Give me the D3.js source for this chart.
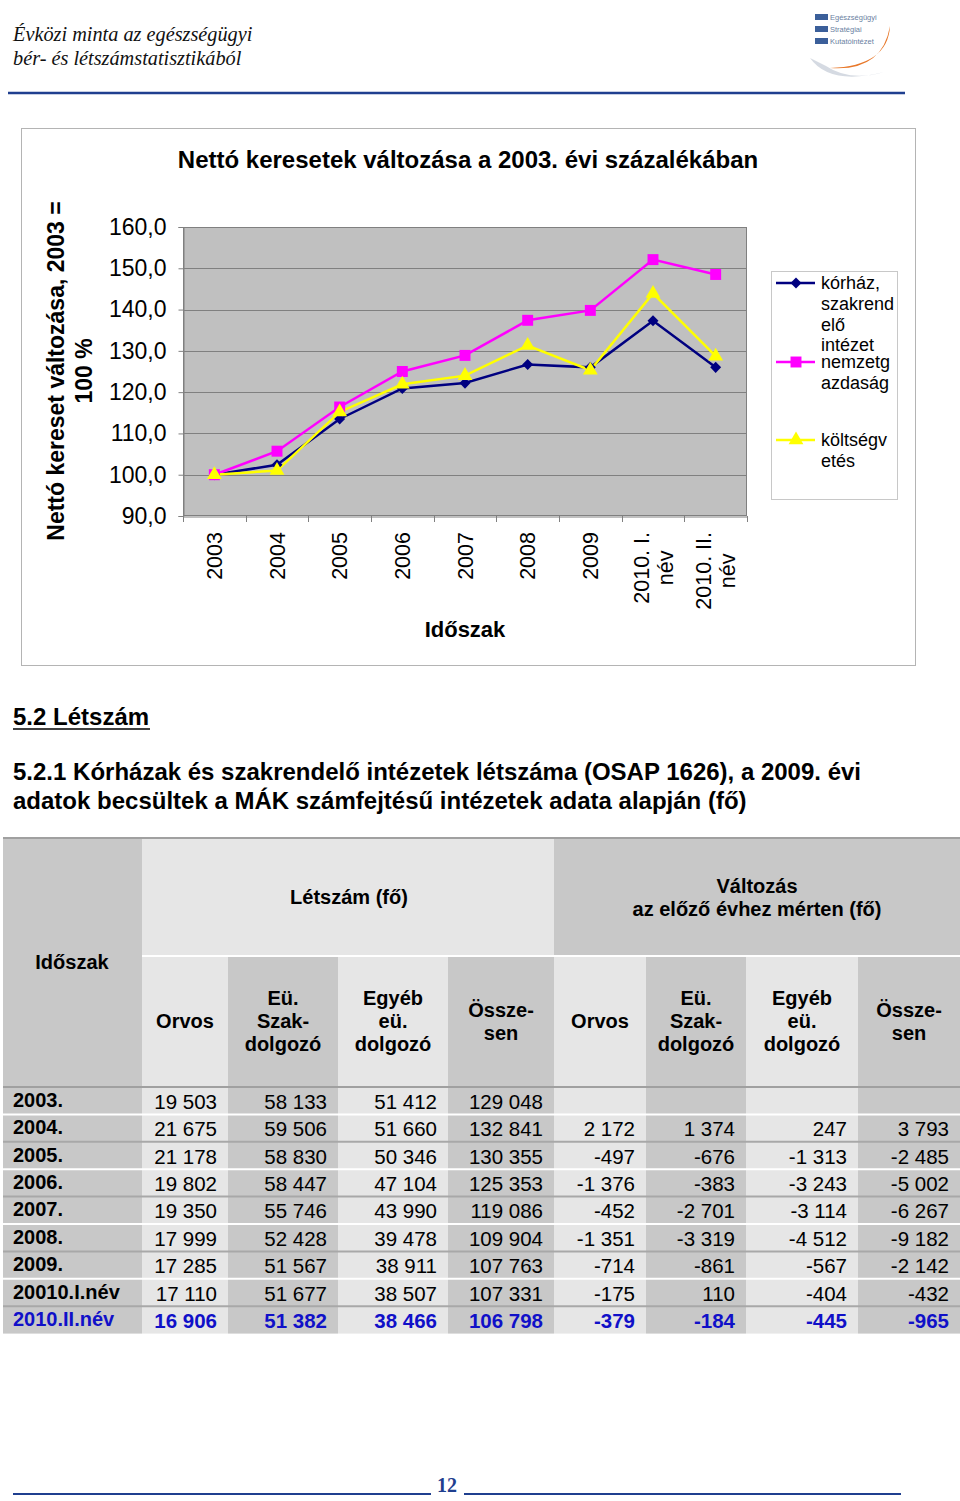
<!DOCTYPE html>
<html>
<head>
<meta charset="utf-8">
<script src="https://cdn.jsdelivr.net/npm/d3@7"></script>
<style>
  body { margin: 0; background: #fff; }
  text { font-family: "Liberation Sans", Arial, sans-serif; }
</style>
</head>
<body>
<svg id="page" width="960" height="1501"></svg>
<script>
// ---- adatok: grafikon
const periods = ["2003", "2004", "2005", "2006", "2007", "2008", "2009", "2010. I. név", "2010. II. név"];
const korhaz = [100.0, 102.4, 113.5, 120.9, 122.2, 126.7, 126.0, 137.3, 126.0];
const nemzetgazdasag = [100.0, 105.7, 116.4, 125.0, 128.9, 137.4, 139.8, 152.1, 148.5];
const koltsegvetes = [100.0, 101.0, 115.2, 121.9, 124.0, 131.3, 125.3, 143.9, 128.7];
const yTicks = [90, 100, 110, 120, 130, 140, 150, 160];
const seriesNames = [["kórház,", "szakrend", "elő", "intézet"], ["nemzetg", "azdaság"], ["költségv", "etés"]];

// ---- adatok: táblázat
const rowLabels = ["2003.", "2004.", "2005.", "2006.", "2007.", "2008.", "2009.", "20010.I.név", "2010.II.név"];
const orvos = [19503, 21675, 21178, 19802, 19350, 17999, 17285, 17110, 16906];
const szakdolgozo = [58133, 59506, 58830, 58447, 55746, 52428, 51567, 51677, 51382];
const egyeb = [51412, 51660, 50346, 47104, 43990, 39478, 38911, 38507, 38466];
const osszesen = [129048, 132841, 130355, 125353, 119086, 109904, 107763, 107331, 106798];
const valtOrvos = [null, 2172, -497, -1376, -452, -1351, -714, -175, -379];
const valtSzak = [null, 1374, -676, -383, -2701, -3319, -861, 110, -184];
const valtEgyeb = [null, 247, -1313, -3243, -3114, -4512, -567, -404, -445];
const valtOssz = [null, 3793, -2485, -5002, -6267, -9182, -2142, -432, -965];
const subHeaders = [["Orvos"], ["Eü.", "Szak-", "dolgozó"], ["Egyéb", "eü.", "dolgozó"], ["Össze-", "sen"]];

const hu = d3.formatLocale({decimal: ",", thousands: " ", grouping: [3], currency: ["", ""], minus: "-"});
const fmtTick = hu.format(".1f");
const fmtNum = hu.format(",d");

const svg = d3.select("#page");
const blue = "#1f3f8f";

// ---- fejléc
const head = svg.append("g");
head.selectAll("text.hd")
  .data(["Évközi minta az egészségügyi", "bér- és létszámstatisztikából"])
  .join("text")
  .attr("x", 13)
  .attr("y", (d, i) => 41 + i * 24)
  .style("font-family", "'Liberation Serif', 'DejaVu Serif', serif")
  .style("font-style", "italic")
  .style("font-size", "20.3px")
  .attr("fill", "#111")
  .text(d => d);
head.append("line")
  .attr("x1", 8).attr("x2", 905).attr("y1", 93).attr("y2", 93)
  .attr("stroke", blue).attr("stroke-width", 2.5);

// logó (egyszerűsítve)
const logo = head.append("g").attr("transform", "translate(800,0)");
logo.append("path")
  .attr("d", "M10,58 Q30,86 84,72 Q50,82 26,66 Z")
  .attr("fill", "#d5dae2");
logo.append("path")
  .attr("d", "M30,68 Q82,72 90,26 Q88,66 30,68 Z")
  .attr("fill", "#e8782a");
["Egészségügyi", "Stratégiai", "Kutatóintézet"].forEach((t, i) => {
  logo.append("rect").attr("x", 15).attr("y", 14 + i * 12).attr("width", 13).attr("height", 6).attr("fill", "#3b5f9a");
  logo.append("text").attr("x", 30).attr("y", 20 + i * 12)
    .style("font-size", "7.5px").attr("fill", "#6a7f9f").text(t);
});

// ---- grafikon
const chart = svg.append("g");
chart.append("rect")
  .attr("x", 21.5).attr("y", 128.5).attr("width", 894).attr("height", 537)
  .attr("fill", "#fff").attr("stroke", "#b4b4b4");

chart.append("text")
  .attr("x", 468).attr("y", 168)
  .attr("text-anchor", "middle")
  .style("font-size", "24px").style("font-weight", "bold")
  .text("Nettó keresetek változása a 2003. évi százalékában");

const x = d3.scaleBand().domain(periods).range([183, 747]);
const y = d3.scaleLinear().domain([90, 160]).range([516, 227]);
const cx = d => x(d) + x.bandwidth() / 2;

chart.append("rect")
  .attr("x", 183).attr("y", 227).attr("width", 564).attr("height", 289)
  .attr("fill", "#c0c0c0");

chart.append("g")
  .selectAll("line")
  .data(yTicks.slice(1))
  .join("line")
  .attr("x1", 183).attr("x2", 747)
  .attr("y1", d => Math.round(y(d)) + 0.5).attr("y2", d => Math.round(y(d)) + 0.5)
  .attr("stroke", "#808080");

chart.append("rect")
  .attr("x", 183.5).attr("y", 227.5).attr("width", 563).attr("height", 288)
  .attr("fill", "none").attr("stroke", "#808080");

// y tengely
const yAxis = chart.append("g").attr("transform", "translate(183.5,0)")
  .call(d3.axisLeft(y).tickValues(yTicks).tickSize(5).tickFormat(fmtTick));
yAxis.select(".domain").attr("stroke", "#808080");
yAxis.selectAll(".tick line").attr("stroke", "#808080");
yAxis.selectAll(".tick text")
  .attr("x", -17)
  .style("font-family", "'Liberation Sans', Arial, sans-serif")
  .style("font-size", "23px").attr("fill", "#000");

// x tengely
const xAxis = chart.append("g").attr("transform", "translate(0,516.5)")
  .call(d3.axisBottom(x).tickSize(0).tickFormat(""));
xAxis.select(".domain").attr("stroke", "#808080");
chart.append("g").selectAll("line")
  .data(periods.concat(["end"]))
  .join("line")
  .attr("x1", (d, i) => Math.round(183 + i * x.bandwidth()) + 0.5)
  .attr("x2", (d, i) => Math.round(183 + i * x.bandwidth()) + 0.5)
  .attr("y1", 516).attr("y2", 522)
  .attr("stroke", "#808080");

const xLab = chart.append("g").selectAll("g")
  .data(periods)
  .join("g")
  .attr("transform", d => `translate(${cx(d)},532) rotate(-90)`);
xLab.each(function (d) {
  const g = d3.select(this);
  const lines = d.endsWith(" név") ? [d.replace(" név", ""), "név"] : [d];
  const texts = lines.map((t, i) => g.append("text")
    .attr("y", lines.length === 1 ? 0 : (i === 0 ? -12 : 12))
    .attr("dy", "0.35em")
    .style("font-size", "21.5px")
    .text(t));
  const w = d3.max(texts, t => t.node().getComputedTextLength());
  texts.forEach(t => t.attr("text-anchor", "middle").attr("x", -w / 2));
});

chart.append("text")
  .attr("x", 465).attr("y", 637)
  .attr("text-anchor", "middle")
  .style("font-size", "22px").style("font-weight", "bold")
  .text("Időszak");

// y tengely címe
const yTitle = chart.append("g").attr("transform", "translate(70,371) rotate(-90)");
["Nettó kereset változása, 2003 =", "100 %"].forEach((t, i) => {
  yTitle.append("text")
    .attr("y", i === 0 ? -14 : 14)
    .attr("dy", "0.35em")
    .attr("text-anchor", "middle")
    .style("font-size", "23px").style("font-weight", "bold")
    .text(t);
});

// vonalak
const series = [
  {values: korhaz, color: "#000080", symbol: d3.symbolDiamond, size: 36, tf: "scale(1.7,1)"},
  {values: nemzetgazdasag, color: "#ff00ff", symbol: d3.symbolSquare, size: 120, tf: ""},
  {values: koltsegvetes, color: "#ffff00", symbol: d3.symbolTriangle, size: 95, tf: ""}
];
const line = d3.line().x((d, i) => cx(periods[i])).y(d => y(d));
const plot = chart.append("g");
series.forEach(s => {
  plot.append("path")
    .attr("d", line(s.values))
    .attr("fill", "none")
    .attr("stroke", s.color)
    .attr("stroke-width", 2.5);
});
series.forEach(s => {
  plot.append("g").selectAll("path")
    .data(s.values)
    .join("path")
    .attr("transform", (d, i) => `translate(${cx(periods[i])},${y(d)}) ${s.tf}`)
    .attr("d", d3.symbol().type(s.symbol).size(s.size))
    .attr("fill", s.color);
});

// jelmagyarázat
const legend = chart.append("g");
legend.append("rect")
  .attr("x", 771.5).attr("y", 271.5).attr("width", 126).attr("height", 228)
  .attr("fill", "#fff").attr("stroke", "#c8c8c8");
const legY = [283, 362, 440];
series.forEach((s, k) => {
  const g = legend.append("g").attr("transform", `translate(0,${legY[k]})`);
  g.append("line").attr("x1", 776).attr("x2", 815).attr("stroke", s.color).attr("stroke-width", 2.5);
  g.append("path")
    .attr("transform", `translate(796,0) ${s.tf}`)
    .attr("d", d3.symbol().type(s.symbol).size(s.size))
    .attr("fill", s.color);
  seriesNames[k].forEach((t, i) => {
    g.append("text")
      .attr("x", 821).attr("y", i * 20.6)
      .attr("dy", "0.35em")
      .style("font-size", "18px")
      .text(t);
  });
});

// ---- alfejezet címek
svg.append("text")
  .attr("x", 13).attr("y", 725)
  .style("font-size", "24px").style("font-weight", "bold")
  .text("5.2 Létszám");
svg.append("line")
  .attr("x1", 13).attr("x2", 150).attr("y1", 729).attr("y2", 729)
  .attr("stroke", "#000").attr("stroke-width", 1.5);
svg.selectAll("text.sub")
  .data(["5.2.1 Kórházak és szakrendelő intézetek létszáma (OSAP 1626), a 2009. évi",
         "adatok becsültek a MÁK számfejtésű intézetek adata alapján (fő)"])
  .join("text")
  .attr("class", "sub")
  .attr("x", 13).attr("y", (d, i) => 780 + i * 29)
  .style("font-size", "24px").style("font-weight", "bold")
  .text(d => d);

// ---- táblázat
const colEdges = [3, 142, 228, 338, 448, 554, 646, 746, 858, 960];
const light = "#e6e6e6", dark = "#c8c8c8";
const colFill = i => (i === 0 ? dark : (i % 2 === 1 ? light : dark));
const tbl = svg.append("g");
const tTop = 838, hSplit = 955, hBot = 1087, rowH = 27.4;

// fejléc háttér
tbl.append("rect").attr("x", 3).attr("y", tTop).attr("width", 139).attr("height", hBot - tTop).attr("fill", dark);
tbl.append("rect").attr("x", 142).attr("y", tTop).attr("width", 412).attr("height", hSplit - tTop).attr("fill", light);
tbl.append("rect").attr("x", 554).attr("y", tTop).attr("width", 406).attr("height", hSplit - tTop).attr("fill", dark);
for (let c = 1; c < 9; c++) {
  tbl.append("rect")
    .attr("x", colEdges[c]).attr("y", hSplit + 2)
    .attr("width", colEdges[c + 1] - colEdges[c]).attr("height", hBot - hSplit - 2)
    .attr("fill", colFill(c));
}
tbl.append("line").attr("x1", 142).attr("x2", 960).attr("y1", hSplit + 1).attr("y2", hSplit + 1)
  .attr("stroke", "#fff").attr("stroke-width", 2);
tbl.append("line").attr("x1", 3).attr("x2", 960).attr("y1", tTop).attr("y2", tTop)
  .attr("stroke", "#a0a0a0").attr("stroke-width", 2);

const hText = (x0, y0, lines, lh) => {
  lines.forEach((t, i) => {
    tbl.append("text")
      .attr("x", x0).attr("y", y0 + (i - (lines.length - 1) / 2) * lh)
      .attr("dy", "0.35em").attr("text-anchor", "middle")
      .style("font-size", "20px").style("font-weight", "bold")
      .text(t);
  });
};
hText(349, 897, ["Létszám (fő)"], 23);
hText(757, 897, ["Változás", "az előző évhez mérten (fő)"], 23);
hText(72, 962, ["Időszak"], 23);
for (let c = 1; c < 9; c++) {
  hText((colEdges[c] + colEdges[c + 1]) / 2, 1021, subHeaders[(c - 1) % 4], 23);
}

// adatsorok
const cols = [orvos, szakdolgozo, egyeb, osszesen, valtOrvos, valtSzak, valtEgyeb, valtOssz];
const rowTop = i => hBot + i * rowH;
for (let c = 0; c < 9; c++) {
  tbl.append("rect")
    .attr("x", colEdges[c]).attr("y", hBot)
    .attr("width", colEdges[c + 1] - colEdges[c]).attr("height", rowH * rowLabels.length)
    .attr("fill", colFill(c));
}
tbl.append("line").attr("x1", 3).attr("x2", 960).attr("y1", hBot).attr("y2", hBot)
  .attr("stroke", "#a0a0a0").attr("stroke-width", 2);
rowLabels.forEach((r, i) => {
  if (i > 0) {
    tbl.append("line")
      .attr("x1", 3).attr("x2", 960)
      .attr("y1", rowTop(i)).attr("y2", rowTop(i))
      .attr("stroke", i % 2 === 0 ? "#a8a8a8" : "#fff").attr("stroke-width", 2);
  }
  const last = i === rowLabels.length - 1;
  const fill = last ? "#1010c8" : "#000";
  const yc = rowTop(i) + rowH / 2 + 1;
  tbl.append("text")
    .attr("x", 13).attr("y", yc - 2).attr("dy", "0.35em")
    .style("font-size", "20px").style("font-weight", "bold")
    .attr("fill", fill)
    .text(r);
  cols.forEach((col, c) => {
    if (col[i] === null) return;
    tbl.append("text")
      .attr("x", colEdges[c + 2] - 11).attr("y", yc).attr("dy", "0.35em")
      .attr("text-anchor", "end")
      .style("font-size", "20.5px").style("font-weight", last ? "bold" : "normal")
      .attr("fill", fill)
      .text(fmtNum(col[i]));
  });
});

// ---- lábléc
const foot = svg.append("g");
foot.append("line").attr("x1", 13).attr("x2", 431).attr("y1", 1494).attr("y2", 1494)
  .attr("stroke", blue).attr("stroke-width", 2);
foot.append("line").attr("x1", 464).attr("x2", 901).attr("y1", 1494).attr("y2", 1494)
  .attr("stroke", blue).attr("stroke-width", 2);
foot.append("text")
  .attr("x", 447).attr("y", 1492)
  .attr("text-anchor", "middle")
  .style("font-family", "'Liberation Serif', serif")
  .style("font-size", "20px").style("font-weight", "bold")
  .attr("fill", blue)
  .text("12");
</script>
</body>
</html>
